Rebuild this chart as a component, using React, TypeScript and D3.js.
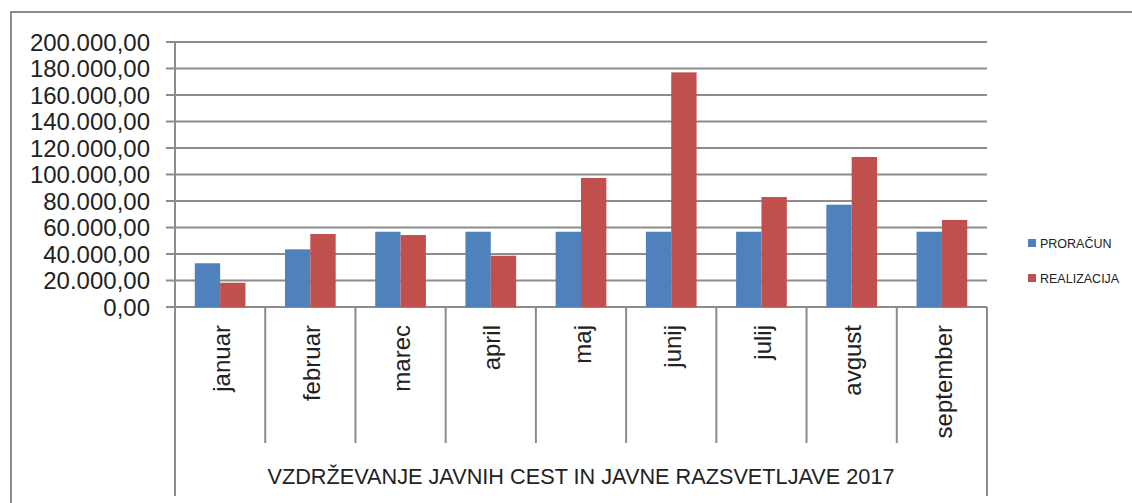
import React, { useEffect, useRef } from "react";
import * as d3 from "d3";

// Month categories and the two series (EUR)
const months = ["januar", "februar", "marec", "april", "maj", "junij", "julij", "avgust", "september"];
const proracun = [33000, 43500, 56800, 56800, 56800, 56800, 56800, 77200, 56800];
const realizacija = [18300, 55100, 54300, 38700, 97400, 177100, 83000, 113200, 65700];
const seriesNames = ["PRORAČUN", "REALIZACIJA"];
const yTicks = [0, 20000, 40000, 60000, 80000, 100000, 120000, 140000, 160000, 180000, 200000];
const groupLabel = "VZDRŽEVANJE JAVNIH CEST IN JAVNE RAZSVETLJAVE 2017";

const W = 1132;
const H = 503;
const colors = ["#4F81BD", "#C0504D"];
const gridColor = "#8c8c8c";
const font = "'Liberation Sans', Arial, sans-serif";

const App = () => {
  const ref = useRef<SVGSVGElement>(null);

  useEffect(() => {
    const svg = d3.select(ref.current);
    svg.selectAll("*").remove();

    const left = 175;
    const right = 987;
    const top = 42;
    const bottom = 307;

    // outer chart border (runs off the right/bottom edge)
    svg.append("rect")
      .attr("x", 11).attr("y", 12)
      .attr("width", W + 20).attr("height", H + 20)
      .attr("fill", "white")
      .attr("stroke", gridColor).attr("stroke-width", 2);

    const x = d3.scaleBand().domain(months).range([left, right]).paddingInner(0).paddingOuter(0);
    const y = d3.scaleLinear().domain([0, 200000]).range([bottom, top]);

    const fmt = (v: number) => {
      const s = d3.format(",.2f")(v);
      return s.replace(/,/g, "#").replace(".", ",").replace(/#/g, ".");
    };

    // gridlines + tick marks
    svg.append("g").selectAll("line")
      .data(yTicks)
      .enter()
      .append("line")
      .attr("x1", left - 9).attr("x2", right)
      .attr("y1", (d) => y(d)).attr("y2", (d) => y(d))
      .attr("stroke", gridColor).attr("stroke-width", 2);

    svg.append("g").selectAll("text")
      .data(yTicks)
      .enter()
      .append("text")
      .attr("x", 150)
      .attr("y", (d) => y(d))
      .attr("dy", "0.36em")
      .attr("text-anchor", "end")
      .attr("font-family", font)
      .attr("font-size", 24)
      .attr("fill", "#222")
      .text((d) => fmt(d));

    // bars
    const inner = d3.scaleBand().domain(seriesNames).range([0, x.bandwidth()]).paddingOuter(0.78).paddingInner(0);
    const seriesData = [proracun, realizacija];
    seriesNames.forEach((name, si) => {
      svg.append("g").selectAll("rect")
        .data(seriesData[si])
        .enter()
        .append("rect")
        .attr("x", (d, i) => (x(months[i]) as number) + (inner(name) as number))
        .attr("y", (d) => y(d))
        .attr("width", inner.bandwidth())
        .attr("height", (d) => bottom - y(d))
        .attr("fill", colors[si]);
    });

    // category axis: left/right outer lines and dividers
    svg.append("line")
      .attr("x1", left).attr("x2", left).attr("y1", top).attr("y2", 496)
      .attr("stroke", gridColor).attr("stroke-width", 2);
    svg.append("line")
      .attr("x1", right).attr("x2", right).attr("y1", bottom).attr("y2", 496)
      .attr("stroke", gridColor).attr("stroke-width", 2);
    svg.append("g").selectAll("line")
      .data(months.slice(1))
      .enter()
      .append("line")
      .attr("x1", (d) => x(d) as number).attr("x2", (d) => x(d) as number)
      .attr("y1", bottom).attr("y2", 443)
      .attr("stroke", gridColor).attr("stroke-width", 2);

    svg.append("g").selectAll("text")
      .data(months)
      .enter()
      .append("text")
      .attr("transform", (d) => `translate(${(x(d) as number) + x.bandwidth() / 2 + 1}, 325) rotate(-90)`)
      .attr("dy", "0.36em")
      .attr("text-anchor", "end")
      .attr("font-family", font)
      .attr("font-size", 24)
      .attr("fill", "#222")
      .text((d) => d);

    svg.append("text")
      .attr("x", (left + right) / 2)
      .attr("y", 484)
      .attr("text-anchor", "middle")
      .attr("font-family", font)
      .attr("font-size", 21.7)
      .attr("fill", "#222")
      .text(groupLabel);

    // legend
    const legend = svg.append("g").selectAll("g")
      .data(seriesNames)
      .enter()
      .append("g")
      .attr("transform", (d, i) => `translate(1028, ${243 + i * 35})`);
    legend.append("rect")
      .attr("x", 0).attr("y", -4)
      .attr("width", 8).attr("height", 8)
      .attr("fill", (d, i) => colors[i]);
    legend.append("text")
      .attr("x", 12).attr("y", 0)
      .attr("dy", "0.36em")
      .attr("font-family", font)
      .attr("font-size", 12.5)
      .attr("fill", "#222")
      .text((d) => d);
  }, []);

  return (
    <svg ref={ref} width={W} height={H} style={{ position: "absolute", left: 0, top: 0, background: "white" }} />
  );
};

export default App;
